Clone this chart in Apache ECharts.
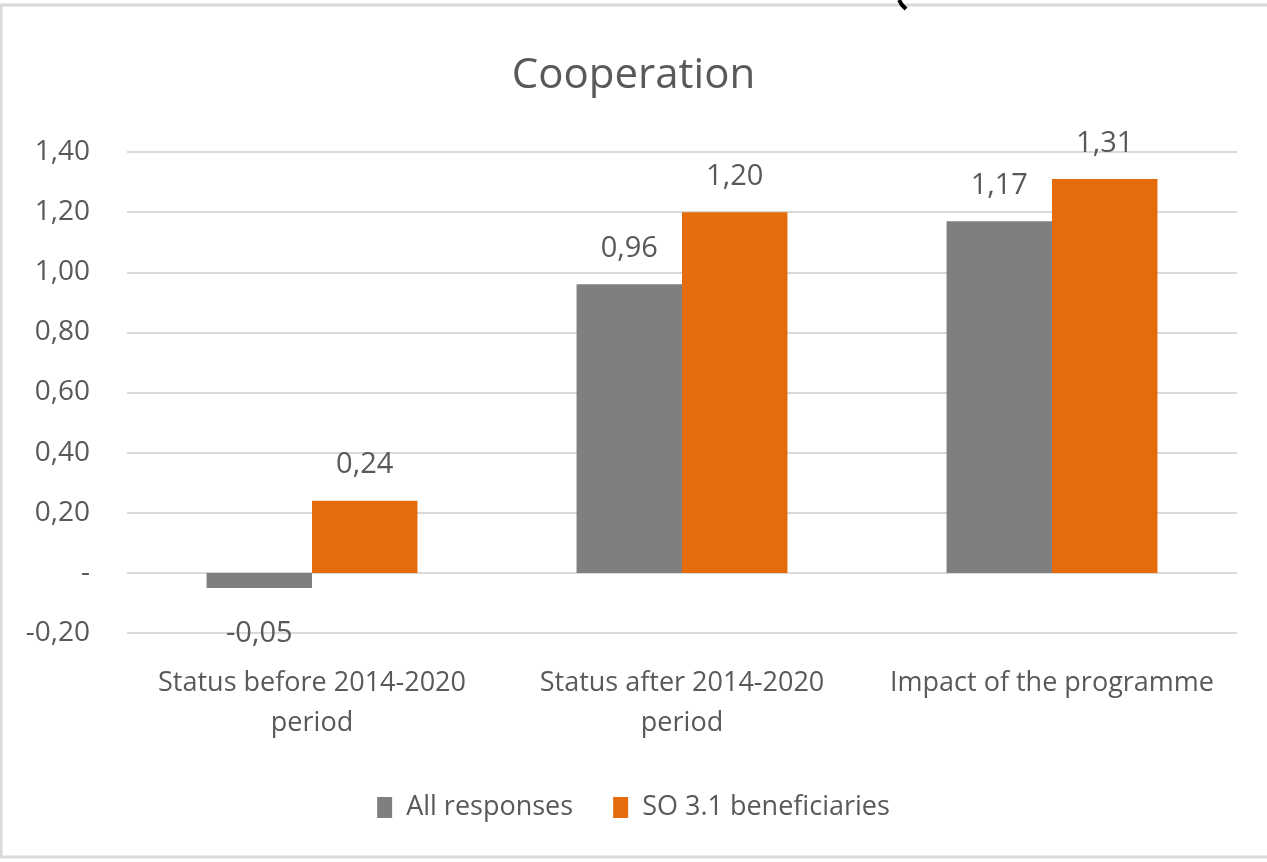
<!DOCTYPE html>
<html><head><meta charset="utf-8">
<script src="https://cdn.jsdelivr.net/npm/echarts@6/dist/echarts.min.js"></script>
<style>html,body{margin:0;padding:0;background:#fff}#c{width:1267px;height:862px}</style>
</head><body><div id="c"></div>
<script>
const categories = ['Status before 2014-2020\nperiod', 'Status after 2014-2020\nperiod', 'Impact of the programme'];
const allResponses = [-0.05, 0.96, 1.17];
const so31 = [0.24, 1.20, 1.31];
const seriesNames = ['All responses', 'SO 3.1 beneficiaries'];
const FONT = 'Open Sans';
const TXT = '#595959';
function fmt(v){ return v === 0 ? '-' : v.toFixed(2).replace('.', ','); }
function items(arr){
  return arr.map(v => ({value: v, label: v < 0 ? {position: 'bottom', distance: 31} : {position: 'top', distance: 21}}));
}
const chart = echarts.init(document.getElementById('c'));
chart.setOption({
  animation: false,
  title: {text: 'Cooperation', left: 'center', top: 50,
    textStyle: {fontFamily: FONT, fontSize: 42, fontWeight: 'normal', color: TXT}},
  legend: {bottom: 36, left: 'center', itemWidth: 15, itemHeight: 21, itemGap: 40,
    icon: 'rect', textStyle: {fontFamily: FONT, fontSize: 27, color: TXT, padding: [0, 0, 0, 9]}},
  grid: {left: 127, right: 30, top: 152, bottom: 229, containLabel: false},
  xAxis: {type: 'category', data: categories,
    axisLine: {show: false}, axisTick: {show: false},
    axisLabel: {interval: 0, hideOverlap: false, fontFamily: FONT, fontSize: 27, color: TXT, lineHeight: 40, margin: 30}},
  yAxis: {type: 'value', min: -0.2, max: 1.4, interval: 0.2,
    axisLine: {show: false}, axisTick: {show: false},
    splitLine: {lineStyle: {color: '#d9d9d9', width: 2}},
    axisLabel: {fontFamily: FONT, fontSize: 28, color: TXT, margin: 37, formatter: fmt}},
  series: [
    {name: seriesNames[0], type: 'bar', data: items(allResponses), barGap: '0%', barCategoryGap: '43%',
     itemStyle: {color: '#7f7f7f'},
     label: {show: true, fontFamily: FONT, fontSize: 29, color: TXT, formatter: p => fmt(p.value)}},
    {name: seriesNames[1], type: 'bar', data: items(so31),
     itemStyle: {color: '#e46c0a'},
     label: {show: true, fontFamily: FONT, fontSize: 29, color: TXT, formatter: p => fmt(p.value)}}
  ],
  graphic: [
    {type: 'rect', shape: {x: 1, y: 5, width: 1275, height: 852}, style: {fill: 'none', stroke: '#d9d9d9', lineWidth: 3}, silent: true},
    {type: 'polyline', shape: {points: [[899, 0], [902, 5], [906, 9]]}, style: {stroke: '#000', lineWidth: 4, fill: 'none'}, silent: true}
  ]
});
</script></body></html>
